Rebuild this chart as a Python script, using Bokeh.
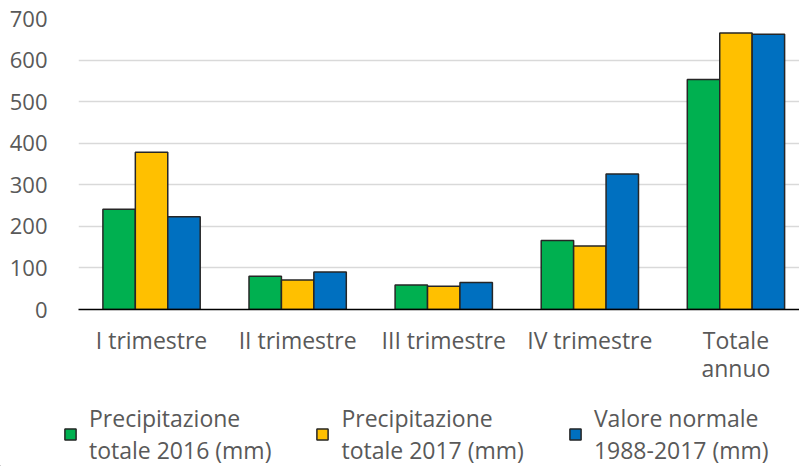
from bokeh.plotting import figure
from bokeh.models import Range1d, FixedTicker, Legend, LegendItem
from bokeh.embed import file_html
from bokeh.resources import INLINE

categories = ["I trimestre", "II trimestre", "III trimestre", "IV trimestre", "Totale\nannuo"]
series_names = ["Precipitazione\ntotale 2016 (mm)", "Precipitazione\ntotale 2017 (mm)", "Valore normale\n1988-2017 (mm)"]
prec_2016 = [241, 80, 59, 166, 553]
prec_2017 = [378, 71, 56, 153, 665]
normale_1988_2017 = [223, 90, 65, 326, 662]
y_ticks = [0, 100, 200, 300, 400, 500, 600, 700]

colors = ["#00B050", "#FFC000", "#0070C0"]
FONT = "Open Sans"
TXT = "#595959"
OUTLINE = "#262626"

p = figure(width=799, height=390, output_backend="svg", toolbar_location=None,
           x_range=Range1d(-0.5, 4.435), y_range=Range1d(0, 700),
           min_border_left=78, min_border_right=0, min_border_top=18,
           min_border_bottom=81)

bar_w = 0.222
series = [prec_2016, prec_2017, normale_1988_2017]
offsets = [-bar_w, 0.0, bar_w]
for vals, off, col in zip(series, offsets, colors):
    xs = [i + off for i in range(len(categories))]
    p.vbar(x=xs, top=vals, width=bar_w, fill_color=col,
           line_color=OUTLINE, line_width=1.5)

p.xaxis.ticker = FixedTicker(ticks=list(range(len(categories))))
p.xaxis.major_label_overrides = {i: c for i, c in enumerate(categories)}
p.xaxis.major_tick_line_color = None
p.xaxis.minor_tick_line_color = None
p.xaxis.axis_line_color = "#000000"
p.xaxis.axis_line_width = 1.5
p.xaxis.major_label_text_font = FONT
p.xaxis.major_label_text_font_size = "23px"
p.xaxis.major_label_text_color = TXT
p.xaxis.major_label_text_line_height = 0.9
p.xaxis.major_label_standoff = 8

p.yaxis.ticker = FixedTicker(ticks=y_ticks)
p.yaxis.axis_line_color = None
p.yaxis.major_tick_line_color = None
p.yaxis.minor_tick_line_color = None
p.yaxis.major_label_text_font = FONT
p.yaxis.major_label_text_font_size = "22px"
p.yaxis.major_label_text_color = TXT
p.yaxis.major_label_standoff = 25

p.xgrid.grid_line_color = None
p.ygrid.ticker = FixedTicker(ticks=y_ticks[1:])
p.ygrid.grid_line_color = "#d9d9d9"
p.ygrid.grid_line_width = 1.5
p.outline_line_color = None

# legend panel (separate root so its frame is not aligned with the chart's)
lg = figure(width=799, height=76, output_backend="svg", toolbar_location=None,
            x_range=Range1d(0, 1), y_range=Range1d(0, 1),
            min_border=0, x_axis_type=None, y_axis_type=None)
lg.grid.visible = False
lg.outline_line_color = None
items = []
for col, name in zip(colors, series_names):
    r = lg.vbar(x=[-5], top=[-5], bottom=[-6], width=0.1, fill_color=col,
                line_color=OUTLINE, line_width=1.5)
    items.append(LegendItem(label=name, renderers=[r]))

legend = Legend(items=items, orientation="horizontal", location=(63, 0),
                label_text_font=FONT, label_text_font_size="23px",
                label_text_color=TXT, label_text_line_height=0.7,
                glyph_width=14, glyph_height=14,
                label_standoff=12, spacing=44, border_line_color=None,
                background_fill_alpha=0, padding=4, margin=0)
lg.add_layout(legend, "center")

open("out.html", "w").write(file_html([p, lg], INLINE))
